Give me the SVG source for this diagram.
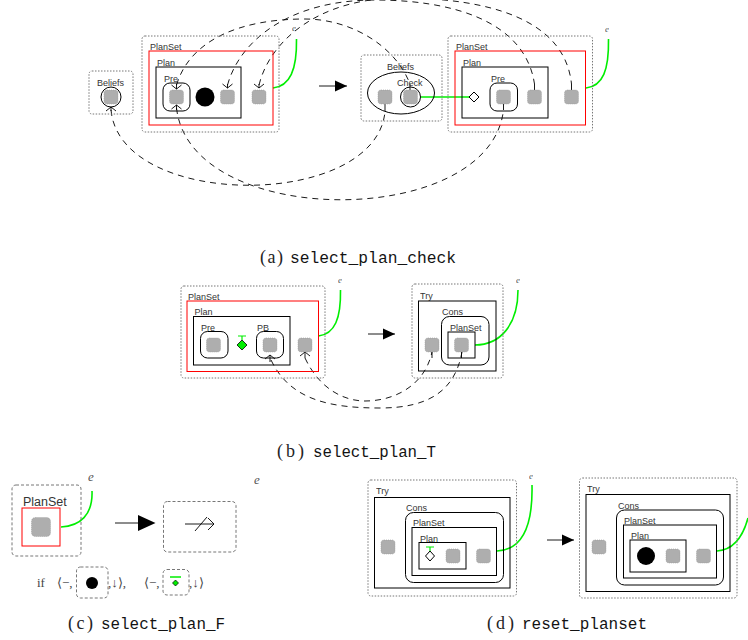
<svg xmlns="http://www.w3.org/2000/svg" width="748" height="640" viewBox="0 0 748 640">
<style>
text{font-family:"Liberation Sans",Arial,sans-serif;font-size:9px;fill:#333;opacity:.99}
.dot{fill:none;stroke:#777;stroke-width:1;stroke-dasharray:1.5 1.5}
.dsh{fill:none;stroke:#777;stroke-width:1;stroke-dasharray:3 2}
.red{fill:none;stroke:#f00;stroke-width:1}
.blk{fill:none;stroke:#000;stroke-width:1}
.grn{fill:none;stroke:#0e0;stroke-width:1.6}
.dash{fill:none;stroke:#000;stroke-width:.9;stroke-dasharray:6 5}
.stub{fill:none;stroke:#000;stroke-width:.9}
.gn{fill:#aeaeae;stroke:#999;stroke-width:.6;stroke-dasharray:1 1}
.e{font-family:"Liberation Serif",serif;font-style:italic;font-size:9px;fill:#555}
.cap{font-family:"Liberation Serif",serif;font-size:18px;fill:#222}
.mono{font-family:"Liberation Mono",monospace;font-size:16px;fill:#111}
.ser{font-family:"Liberation Serif",serif;font-size:13px;fill:#444}
</style>
<defs>
<marker id="open" markerUnits="userSpaceOnUse" markerWidth="12" markerHeight="12" refX="6" refY="6" orient="auto"><path d="M2,1L6,6L2,11" fill="none" stroke="#000" stroke-width=".9"/></marker>
<marker id="head" markerUnits="userSpaceOnUse" markerWidth="14" markerHeight="14" refX="12" refY="6" orient="auto"><path d="M0,0.500L12,6L0,11.500Z" fill="#000"/></marker>
<rect id="g" x="-7" y="-7" width="14" height="14" rx="3" class="gn"/>
</defs>

<g id="connectors">
<path class="dash" d="M176.500,85C190,40 240,19 305,19C350,19 395,45 410,84"/>
<path class="dash" d="M227.500,85C240,40 290,0 375,0C450,0 525,20 534.500,84"/>
<path class="dash" d="M259,85C270,40 320,-2 400,-2C490,-2 565,20 571.500,84"/>
<path class="dash" d="M176.500,108C190,230 490,230 503.500,110"/>
<path class="dash" d="M111,110C120,210 375,210 385,112"/>
<path class="stub" d="M176.500,84V89" marker-end="url(#open)"/>
<path class="stub" d="M176.500,110V105" marker-end="url(#open)"/>
<path class="stub" d="M227.500,84V88" marker-end="url(#open)"/>
<path class="stub" d="M259,84V88" marker-end="url(#open)"/>
<path class="stub" d="M111,111V107" marker-end="url(#open)"/>
<path class="stub" d="M410,84V90M534.500,84V90M571.500,84V90M503.500,104V110M385,104V111"/>
<path class="dash" d="M271,360C290,400 330,408 380,408C430,408 455,390 462,352"/>
<path class="dash" d="M305,358C320,390 345,401 365,401C395,401 425,385 432,352"/>
<path class="stub" d="M270,362V355" marker-end="url(#open)"/>
<path class="stub" d="M305,358V352" marker-end="url(#open)"/>
<path class="stub" d="M432,352V358M461.500,352V358"/>
<path class="grn" d="M273,88C290,86 297,70 296.500,39"/>
<path class="grn" d="M586,88C603,86 609,70 608.500,39"/>
<path class="grn" d="M421,97H470"/>
<path class="grn" d="M318.500,336C335,334 341,318 340.500,290"/>
<path class="grn" d="M475,345C500,345 518,325 518,290"/>
<path class="grn" d="M61,527C80,526 93,515 92,491"/>
<path class="grn" d="M497,551C520,550 533,530 532,485"/>
<path class="grn" d="M717,551C732,550 742,540 748,518"/>
<path class="stub" d="M319,86H347" marker-end="url(#head)"/>
<path class="stub" d="M368,334H395" marker-end="url(#head)"/>
<path class="stub" d="M547,540H574" marker-end="url(#head)"/>
<path class="stub" d="M115,523H140"/>
<path d="M138,515L155.500,523L138,531Z" fill="#000"/>
</g>

<g id="a-beliefs">
<rect class="dot" x="89" y="71" width="44" height="43" rx="3"/>
<text x="97" y="86">Beliefs</text>
<circle class="blk" cx="111" cy="97" r="10"/>
<use href="#g" x="111" y="97"/>
</g>
<g id="a-planset">
<rect class="dot" x="142" y="36" width="137" height="96" rx="3"/>
<text x="150" y="50">PlanSet</text>
<rect class="red" x="149" y="51" width="124" height="74"/>
<rect class="blk" x="156" y="67" width="85" height="51"/>
<text x="157" y="66">Plan</text>
<rect class="blk" x="163" y="83" width="27" height="28" rx="7"/>
<text x="164" y="82">Pre</text>
<use href="#g" x="176.500" y="97"/>
<circle cx="205" cy="97" r="9.500" fill="#000"/>
<use href="#g" x="227.500" y="97"/>
<use href="#g" x="259" y="97"/>
<text class="e" x="292" y="31">e</text>
</g>
<g id="a-beliefs2">
<rect class="dot" x="361" y="55" width="81" height="66" rx="3"/>
<text x="387" y="70">Beliefs</text>
<ellipse class="blk" cx="401" cy="93" rx="33.500" ry="21"/>
<text x="397" y="86">Check</text>
<circle class="blk" cx="410.500" cy="97" r="10"/>
<use href="#g" x="410.500" y="97"/>
<use href="#g" x="385" y="97"/>
</g>
<g id="a-planset2">
<rect class="dot" x="448" y="36" width="144.500" height="96" rx="3"/>
<text x="456" y="50">PlanSet</text>
<rect class="red" x="455" y="51" width="130.500" height="74"/>
<rect class="blk" x="462" y="67" width="86" height="51"/>
<text x="463" y="66">Plan</text>
<rect class="blk" x="490" y="83" width="27.500" height="28" rx="7"/>
<text x="491" y="82">Pre</text>
<path d="M474,92L479,97L474,102L469,97Z" fill="#fff" stroke="#000"/>
<use href="#g" x="503.500" y="97"/>
<use href="#g" x="534.500" y="97"/>
<use href="#g" x="571.500" y="97"/>
<text class="e" x="605" y="32">e</text>
</g>
<g id="caption-a"><text class="cap" x="260" y="263" textLength="23">(a)</text><text class="mono" x="290" y="263" textLength="166" lengthAdjust="spacingAndGlyphs">select_plan_check</text></g>

<g id="b-planset">
<rect class="dot" x="181" y="286" width="144" height="92" rx="3"/>
<text x="188" y="300">PlanSet</text>
<rect class="red" x="187" y="301" width="131.500" height="70.500"/>
<rect class="blk" x="193.500" y="316.500" width="96.500" height="48.500"/>
<text x="194.500" y="315">Plan</text>
<rect class="blk" x="200.500" y="331.500" width="27.500" height="26.500" rx="7"/>
<text x="201" y="331">Pre</text>
<use href="#g" x="213.500" y="345"/>
<path d="M238,336H246M242,336V340" fill="none" stroke="#0e0" stroke-width="1.200"/>
<path d="M242,340L247,345L242,350L237,345Z" fill="#0e0" stroke="#000" stroke-width=".8"/>
<rect class="blk" x="256.500" y="331.500" width="27" height="26.500" rx="7"/>
<text x="257" y="331">PB</text>
<use href="#g" x="270" y="345"/>
<use href="#g" x="305" y="345"/>
<text class="e" x="338" y="283">e</text>
</g>
<g id="b-try">
<rect class="dot" x="412" y="284" width="91" height="94" rx="3"/>
<text x="420" y="299">Try</text>
<rect class="blk" x="418.500" y="301" width="77.500" height="70"/>
<rect class="blk" x="441.500" y="316.500" width="47.500" height="48.500" rx="8"/>
<text x="442" y="315">Cons</text>
<rect class="blk" x="448" y="332" width="27" height="26"/>
<text x="450" y="331">PlanSet</text>
<use href="#g" x="432" y="345"/>
<use href="#g" x="461.500" y="345"/>
<text class="e" x="516" y="283">e</text>
</g>
<g id="caption-b"><text class="cap" x="277" y="457" textLength="27">(b)</text><text class="mono" x="313" y="457" textLength="123" lengthAdjust="spacingAndGlyphs">select_plan_T</text></g>

<g id="c-left">
<rect class="dsh" x="12" y="485" width="69" height="71" rx="4"/>
<text x="23" y="506" style="font-size:12.500px">PlanSet</text>
<rect class="red" x="22" y="508" width="38" height="38"/>
<rect x="31.500" y="517.500" width="19" height="19" rx="4" class="gn"/>
<text class="e" x="88" y="481" style="font-size:13px">e</text>
</g>
<g id="c-right">
<rect class="dsh" x="163.500" y="501.500" width="72.500" height="50.500" rx="4"/>
<path class="stub" d="M185,524H214M208,518L214,524L208,530M195,531L207,517"/>
<text class="e" x="254" y="484" style="font-size:13px">e</text>
</g>
<g id="c-cond">
<text class="ser" x="37" y="587">if</text>
<text class="ser" x="57" y="587">⟨−,</text>
<rect class="dsh" x="76.500" y="567" width="31.500" height="31" rx="4"/>
<circle cx="92" cy="583" r="6" fill="#000"/>
<text class="ser" x="108" y="587">,↓⟩,</text>
<text class="ser" x="144" y="587">⟨−,</text>
<rect class="dsh" x="163" y="569.500" width="26" height="25.500" rx="4"/>
<path d="M170,577H181" stroke="#0e0" stroke-width="1.500"/>
<path d="M175.500,580L178.500,583L175.500,586L172.500,583Z" fill="#0e0" stroke="#000" stroke-width=".7"/>
<text class="ser" x="189" y="587">,↓⟩</text>
</g>
<g id="caption-c"><text class="cap" x="68" y="629" textLength="25">(c)</text><text class="mono" x="101" y="629" textLength="124" lengthAdjust="spacingAndGlyphs">select_plan_F</text></g>

<g id="d-left">
<rect class="dot" x="368" y="480" width="148.500" height="116" rx="3"/>
<text x="376" y="494">Try</text>
<rect class="blk" x="374.500" y="497.500" width="135.500" height="90.500"/>
<rect class="blk" x="405.500" y="512.500" width="98" height="70" rx="8"/>
<text x="406" y="511">Cons</text>
<rect class="blk" x="412" y="527.500" width="84.500" height="48"/>
<text x="413" y="526">PlanSet</text>
<rect class="blk" x="419" y="542.500" width="47" height="26.500"/>
<text x="420" y="542">Plan</text>
<path d="M426,547H434M430,547V551" fill="none" stroke="#0e0" stroke-width="1.200"/>
<path d="M430,551L434.500,556L430,561L425.500,556Z" fill="#fff" stroke="#000"/>
<use href="#g" x="453" y="556"/>
<use href="#g" x="483.500" y="556"/>
<use href="#g" x="388" y="547"/>
<text class="e" x="529" y="479">e</text>
</g>
<g id="d-right">
<rect class="dot" x="579.500" y="478" width="157.500" height="120" rx="3"/>
<text x="587" y="492">Try</text>
<rect class="blk" x="586" y="494.500" width="144" height="97"/>
<rect class="blk" x="616.500" y="510" width="107" height="75" rx="8"/>
<text x="618" y="509">Cons</text>
<rect class="blk" x="623.500" y="525" width="93" height="53"/>
<text x="624" y="524">PlanSet</text>
<rect class="blk" x="630" y="540" width="56" height="32"/>
<text x="631" y="539">Plan</text>
<circle cx="646" cy="556" r="9" fill="#000"/>
<use href="#g" x="673" y="556"/>
<use href="#g" x="703.500" y="556"/>
<use href="#g" x="599" y="547"/>
</g>
<g id="caption-d"><text class="cap" x="487" y="629" textLength="27">(d)</text><text class="mono" x="522" y="629" textLength="125" lengthAdjust="spacingAndGlyphs">reset_planset</text></g>
</svg>
